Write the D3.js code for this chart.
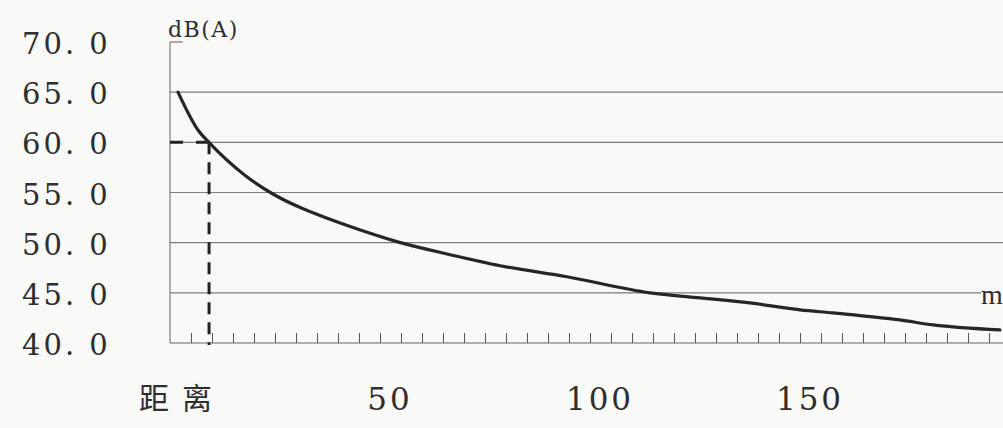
<!DOCTYPE html>
<html>
<head>
<meta charset="utf-8">
<script src="https://cdn.jsdelivr.net/npm/d3@7"></script>
<style>
  html, body { margin: 0; padding: 0; background: #f9f9f8; }
  svg { display: block; }
</style>
</head>
<body>
<div id="chart"></div>
<script>
// distance (m) vs noise level dB(A)
const distance = [1.9, 6.7, 9.5, 17.9, 24.3, 31, 34.5, 42.9, 54, 66.7, 78.6, 94.5, 114.3, 126.2, 138, 150, 157.9, 173.8, 181.7, 197.6];
const level = [65.0, 61.2, 59.9, 56.7, 54.9, 53.5, 52.9, 51.6, 50.1, 48.8, 47.7, 46.6, 45.0, 44.5, 44.0, 43.3, 43.0, 42.3, 41.8, 41.3];
const yTicks = [40, 45, 50, 55, 60, 65, 70];
const xLabels = [50, 100, 150];
const xMinorTicks = d3.range(5, 200, 5);
const markDistance = 9.3;
const markLevel = 60;

const Width = 1003, Height = 428;
const Margin = { top: 42, left: 170, bottom: 85 };

const Svg = d3.select('#chart').append('svg')
  .attr('width', Width).attr('height', Height);

Svg.append('rect').attr('width', Width).attr('height', Height).attr('fill', '#f9f9f8');

const xScale = d3.scaleLinear().domain([0, 200]).range([Margin.left, Margin.left + 840]);
const yScale = d3.scaleLinear().domain([40, 70]).range([Height - Margin.bottom, Margin.top]);

// gridlines
Svg.append('g').selectAll('line')
  .data(yTicks.filter(d => d > 40 && d < 70))
  .enter().append('line')
  .attr('x1', xScale(0))
  .attr('x2', d => d === 45 ? 981 : Width)
  .attr('y1', d => yScale(d)).attr('y2', d => yScale(d))
  .attr('stroke', '#7d7d7d').attr('stroke-width', 1.2);

// y axis line + little top tick
Svg.append('line')
  .attr('x1', xScale(0)).attr('x2', xScale(0))
  .attr('y1', yScale(70)).attr('y2', yScale(40))
  .attr('stroke', '#666').attr('stroke-width', 1);
Svg.append('line')
  .attr('x1', xScale(0)).attr('x2', xScale(0) + 13)
  .attr('y1', yScale(70)).attr('y2', yScale(70))
  .attr('stroke', '#a88').attr('stroke-width', 1.5);

// bottom axis with small upward ticks
const xAxis = Svg.append('g')
  .attr('transform', `translate(0, ${yScale(40)})`)
  .call(d3.axisBottom(xScale).tickValues(xMinorTicks).tickSize(-10).tickFormat('').tickSizeOuter(0));
xAxis.select('.domain').attr('stroke', '#666').attr('d', `M${xScale(0)},0H${Width}`);
xAxis.selectAll('.tick line').attr('stroke', '#555').attr('stroke-width', 1);

// y tick labels
Svg.append('g').selectAll('text')
  .data(yTicks)
  .enter().append('text')
  .attr('x', 22)
  .attr('y', d => yScale(d) + 12)
  .attr('font-family', 'DejaVu Serif')
  .attr('font-size', 29)
  .attr('letter-spacing', 3)
  .attr('fill', '#2e2e2e')
  .text(d => d3.format('.1f')(d).replace('.', '. '));

// x tick labels
Svg.append('g').selectAll('text')
  .data(xLabels)
  .enter().append('text')
  .attr('x', d => xScale(d) + 10)
  .attr('y', 410)
  .attr('text-anchor', 'middle')
  .attr('font-family', 'DejaVu Serif')
  .attr('font-size', 31)
  .attr('letter-spacing', 3)
  .attr('fill', '#2e2e2e')
  .text(d => d);

Svg.append('text')
  .attr('x', 139).attr('y', 409)
  .attr('font-family', 'Noto Sans CJK SC')
  .attr('font-size', 30)
  .attr('letter-spacing', 13)
  .attr('fill', '#2e2e2e')
  .text('距离');

Svg.append('text')
  .attr('x', 168).attr('y', 37)
  .attr('font-family', 'DejaVu Serif')
  .attr('font-size', 22)
  .attr('letter-spacing', 1.5)
  .attr('fill', '#2e2e2e')
  .text('dB(A)');

Svg.append('text')
  .attr('x', 981).attr('y', 304)
  .attr('font-family', 'Liberation Serif')
  .attr('font-size', 28)
  .attr('fill', '#2e2e2e')
  .text('m');

// dashed marker at 60 dB
Svg.append('path')
  .attr('d', `M${xScale(0)},${yScale(markLevel)}H${xScale(markDistance)}`)
  .attr('stroke', '#222').attr('stroke-width', 3)
  .attr('stroke-dasharray', '13,13').attr('fill', 'none');
Svg.append('path')
  .attr('d', `M${xScale(markDistance)},${yScale(markLevel)}V${yScale(40) + 2}`)
  .attr('stroke', '#222').attr('stroke-width', 3)
  .attr('stroke-dasharray', '12,8').attr('fill', 'none');

// attenuation curve
const line = d3.line()
  .x((d, i) => xScale(distance[i]))
  .y(d => yScale(d))
  .curve(d3.curveMonotoneX);
Svg.append('path')
  .datum(level)
  .attr('d', line)
  .attr('fill', 'none')
  .attr('stroke', '#262626')
  .attr('stroke-width', 3.2)
  .attr('stroke-linecap', 'round');
</script>
</body>
</html>
